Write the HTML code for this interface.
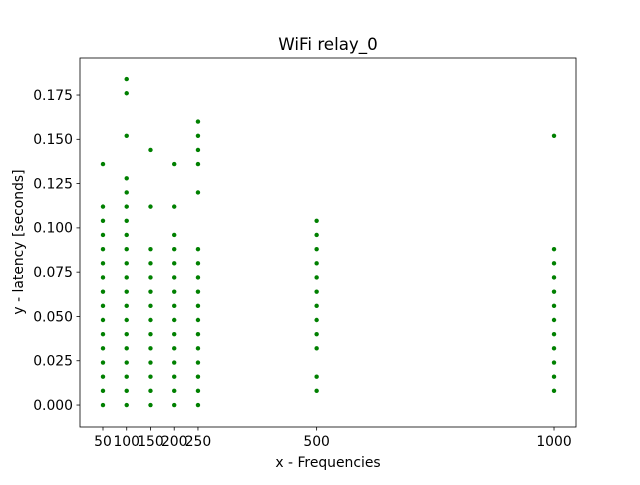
<!DOCTYPE html>
<html><head><meta charset="utf-8"><style>body{margin:0;background:#fff}svg{font-family:"DejaVu Sans","Liberation Sans",sans-serif}</style></head>
<body>
<svg id="c" width="640" height="480"></svg>
<script>
const categories=[50,100,150,200,250,500,1000];
const base=[0.088,0.08,0.072,0.064,0.056,0.048,0.04,0.032,0.024,0.016,0.008,0];
const seriesValues=[
 [0.136,0.112,0.104,0.096].concat(base),
 [0.184,0.176,0.152,0.128,0.12,0.112,0.104,0.096].concat(base),
 [0.144,0.112].concat(base),
 [0.136,0.112,0.096].concat(base),
 [0.16,0.152,0.144,0.136,0.12].concat(base),
 [0.104,0.096,0.088,0.08,0.072,0.064,0.056,0.048,0.04,0.032,0.016,0.008],
 [0.152,0.088,0.08,0.072,0.064,0.056,0.048,0.04,0.032,0.024,0.016,0.008]
];
const yTicks=[0,0.025,0.05,0.075,0.1,0.125,0.15,0.175];
const xTicks=[50,100,150,200,250,500,1000];
const NS="http://www.w3.org/2000/svg",svg=document.getElementById('c');
const L=80,R=576,T=58,B=427,x0=1.55,x1=1046.3,y0=-0.0124,y1=0.1959;
const sx=v=>L+(v-x0)/(x1-x0)*(R-L), sy=v=>B-(v-y0)/(y1-y0)*(B-T);
function mk(t,a,txt){const e=document.createElementNS(NS,t);for(const k in a)e.setAttribute(k,a[k]);if(txt!=null)e.textContent=txt;svg.appendChild(e);return e;}
categories.forEach((c,i)=>seriesValues[i].forEach(v=>{const p=mk('circle',{cx:sx(c),cy:sy(v),r:2.2,fill:'#008000'});

}));
const fr=mk('rect',{x:L,y:T,width:R-L,height:B-T,fill:'none',stroke:'#000','stroke-width':0.8});


yTicks.forEach(v=>{const y=sy(v);mk('line',{x1:L-3.5,x2:L,y1:y,y2:y,stroke:'#000','stroke-width':0.8});
const t=mk('text',{x:L-7,y:y+4.8,'text-anchor':'end','font-size':13.9},v.toFixed(3));

});
xTicks.forEach(v=>{const x=sx(v);mk('line',{x1:x,x2:x,y1:B,y2:B+3.5,stroke:'#000','stroke-width':0.8});
const t=mk('text',{x:x,y:B+19,'text-anchor':'middle','font-size':13.9},String(v));

});
const ti=mk('text',{x:328,y:50,'text-anchor':'middle','font-size':16.7},'WiFi relay_0');


const xl=mk('text',{x:328,y:467,'text-anchor':'middle','font-size':13.9},'x - Frequencies');


const yl=mk('text',{x:23,y:242,'text-anchor':'middle','font-size':13.9,transform:'rotate(-90 23 242)'},'y - latency [seconds]');


</script>
</body></html>
